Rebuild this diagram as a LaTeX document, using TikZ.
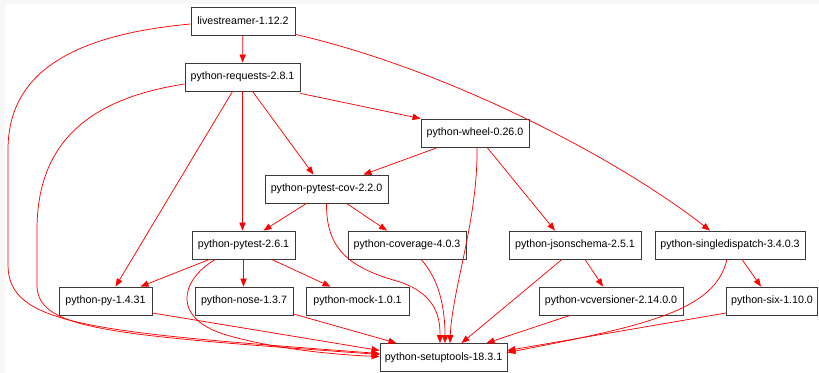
\documentclass[tikz,border=0pt]{standalone}
\usepackage{fontspec}
\setmainfont{Liberation Sans}
\usetikzlibrary{arrows.meta,calc}
\definecolor{bgband}{HTML}{F7F7F7}
\definecolor{boxline}{HTML}{3A3A3A}
\begin{document}
\begin{tikzpicture}[x=0.75pt,y=-0.75pt,
  pkg/.style={draw=boxline,line width=0.6pt,fill=white,inner sep=0pt,minimum height=21pt,font=\fontsize{8}{9.6}\selectfont},
  dep/.style={draw=red,line width=0.55pt,-{Triangle[length=6pt,width=4.6pt]},fill=none},
  ]
\useasboundingbox (0,0) rectangle (819,373);
\fill[bgband] (0,0) rectangle (819,373);
\fill[white] (5,4) rectangle (819,373);

\node[pkg,minimum width=78pt] (live) at (243,21) {livestreamer-1.12.2};
\node[pkg,minimum width=86.25pt] (req) at (242.5,77) {python-requests-2.8.1};
\node[pkg,minimum width=81pt] (wheel) at (475,133) {python-wheel-0.26.0};
\node[pkg,minimum width=92.25pt] (cov) at (326.5,189) {python-pytest-cov-2.2.0};
\node[pkg,minimum width=77.25pt] (pytest) at (243.5,245) {python-pytest-2.6.1};
\node[pkg,minimum width=88.5pt] (covg) at (407,245) {python-coverage-4.0.3};
\node[pkg,minimum width=99pt] (json) at (575,245) {python-jsonschema-2.5.1};
\node[pkg,minimum width=112.5pt] (single) at (730,245) {python-singledispatch-3.4.0.3};
\node[pkg,minimum width=69.75pt] (py) at (105.5,301) {python-py-1.4.31};
\node[pkg,minimum width=73.5pt] (nose) at (244,301) {python-nose-1.3.7};
\node[pkg,minimum width=77.25pt] (mock) at (357.5,301) {python-mock-1.0.1};
\node[pkg,minimum width=108pt] (vcv) at (611,301) {python-vcversioner-2.14.0.0};
\node[pkg,minimum width=68.25pt] (six) at (772,301) {python-six-1.10.0};
\node[pkg,minimum width=95.25pt] (setup) at (443.5,357.5) {python-setuptools-18.3.1};

% livestreamer
\draw[dep] (live) -- (req);
\draw[dep] ($(live.west)+(0,3)$) .. controls (60,36) and (8,80) .. (8,150)
  -- (8,265) .. controls (8,325) and (90,332) .. ($(setup.west)+(0,-4)$);
\draw[dep] ($(live.south east)+(0,-1)$) .. controls (450,70) and (620,160) .. ($(single.north)+(-20,0)$);

% requests
\draw[dep] ($(req.west)+(0,7)$) .. controls (80,100) and (37,150) .. (37,230)
  -- (37,285) .. controls (37,330) and (110,335) .. ($(setup.west)+(0,-3)$);
\draw[dep] ($(req.south)+(-10,0)$) -- ($(py.north)+(10,0)$);
\draw[dep] (req.south) -- (pytest.north -| req.south);
\draw[dep] ($(req.south)+(10,0)$) -- ($(cov.north)+(-13,0)$);
\draw[dep] ($(req.south east)+(0,2)$) -- ($(wheel.north west)+(0,0)$);

% wheel
\draw[dep] ($(wheel.south)+(-37,0)$) -- ($(cov.north)+(37,0)$);
\draw[dep] ($(wheel.south)+(2,0)$) .. controls (478,220) and (452,290) .. ($(setup.north)+(6.5,0)$);
\draw[dep] ($(wheel.south)+(12,0)$) -- ($(json.north)+(-20,0)$);

% pytest-cov
\draw[dep] ($(cov.south)+(-20,0)$) -- ($(pytest.north)+(20,0)$);
\draw[dep] ($(cov.south)+(20,0)$) -- ($(covg.north)+(-20,0)$);
\draw[dep] (cov.south) .. controls (326,250) and (350,268) .. (400,282)
  .. controls (438,295) and (440,320) .. ($(setup.north)+(-3.5,0)$);

% coverage
\draw[dep] ($(covg.south)+(14,0)$) .. controls (440,280) and (445,310) .. ($(setup.north)+(1.5,0)$);

% pytest
\draw[dep] ($(pytest.south)+(-34,0)$) -- ($(py.north)+(35,0)$);
\draw[dep] (pytest.south) -- (nose.north -| pytest.south);
\draw[dep] ($(pytest.south)+(28,0)$) -- ($(mock.north)+(-27,0)$);
\draw[dep] ($(pytest.south)+(-28,0)$) .. controls (180,280) and (170,320) .. (230,336)
  .. controls (280,350) and (340,355) .. ($(setup.west)+(0,-1)$);

% bottom row
\draw[dep] ($(py.east)+(0,12)$) -- ($(setup.west)+(0,-7)$);
\draw[dep] ($(nose.east)+(0,13)$) -- ($(setup.north)+(-47,0)$);
\draw[dep] ($(json.south)+(-13,0)$) -- ($(setup.north)+(18,0)$);
\draw[dep] ($(json.south)+(10,0)$) -- ($(vcv.north)+(-8,0)$);
\draw[dep] ($(vcv.south)+(-41,0)$) -- ($(setup.north)+(43,0)$);
\draw[dep] ($(single.south)+(12,0)$) -- ($(six.north)+(-11,0)$);
\draw[dep] ($(single.south)+(-3,0)$) .. controls (715,310) and (650,325) .. ($(setup.east)+(0,-5)$);
\draw[dep] ($(six.west)+(0,12)$) -- ($(setup.east)+(0,-7)$);
\end{tikzpicture}
\end{document}
